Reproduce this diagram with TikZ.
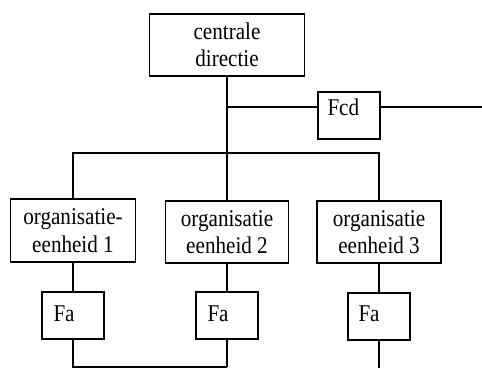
\documentclass[tikz,border=0pt]{standalone}
\usepackage{fontspec}
\setmainfont{Liberation Serif}
\newfontfamily\chartfont{Liberation Serif}[FakeStretch=0.88]
\usetikzlibrary{calc}
\begin{document}
\begin{tikzpicture}[x=1bp,y=-1bp,
  every node/.style={font=\chartfont\fontsize{24bp}{27.5bp}\selectfont},
  box/.style={draw, line width=1.4bp, inner sep=0pt, align=center},
  smallbox/.style={draw, line width=1.4bp, inner sep=0pt,
    minimum width=62bp, minimum height=47bp},
  tag/.style={anchor=base west, inner sep=0pt},
  link/.style={line width=1.4bp}]
\useasboundingbox (0,0) rectangle (482,368);
\fill[white] (0,0) rectangle (482,368);

% top of the hierarchy
\node[box, minimum width=155bp, minimum height=62bp] (cd) at (227,45) {centrale\\directie};

% staff function beside the central management
\node[smallbox] (fcd) at (349,115.5) {};
\node[tag] (fcdt) at ($(fcd.north west)+(10,24)$) {Fcd};

% organisational units
\node[box, minimum width=125bp, minimum height=63bp] (oe1) at (73,230.5) {organisatie-\\eenheid 1};
\node[box, minimum width=123bp, minimum height=62bp] (oe2) at (227,232) {organisatie\\eenheid 2};
\node[box, minimum width=124bp, minimum height=62bp] (oe3) at (379,232) {organisatie\\eenheid 3};

% staff functions per unit
\node[smallbox] (fa1) at (73,315.5) {};
\node[smallbox] (fa2) at (227,315.5) {};
\node[smallbox] (fa3) at (379,316.5) {};
\node[tag] (fa1t) at ($(fa1.north west)+(12,30)$) {Fa};
\node[tag] (fa2t) at ($(fa2.north west)+(12,30)$) {Fa};
\node[tag] (fa3t) at ($(fa3.north west)+(11,29)$) {Fa};

% junctions and loose ends
\coordinate (jf) at (227,107);
\coordinate (bus) at (227,153);
\coordinate (fcdend) at (482,107);
\coordinate (b1) at (73,367);
\coordinate (b2) at (227,367);
\coordinate (b3) at (379,368);

% connectors
\draw[link] (cd.south) -- (bus);
\draw[link] (jf) -- (jf -| fcd.west);
\draw[link] (jf -| fcd.east) -- (fcdend);
\draw[link] (oe1.north) -- (bus -| oe1.north) -- (bus -| oe3.north) -- (oe3.north);
\draw[link] (bus) -- (oe2.north);
\draw[link] (oe1.south) -- (fa1.north);
\draw[link] (oe2.south) -- (fa2.north);
\draw[link] (oe3.south) -- (fa3.north);
\draw[link] (fa1.south) -- (b1) -- (b2);
\draw[link] (fa2.south) -- (b2);
\draw[link] (fa3.south) -- (b3);
\end{tikzpicture}
\end{document}
